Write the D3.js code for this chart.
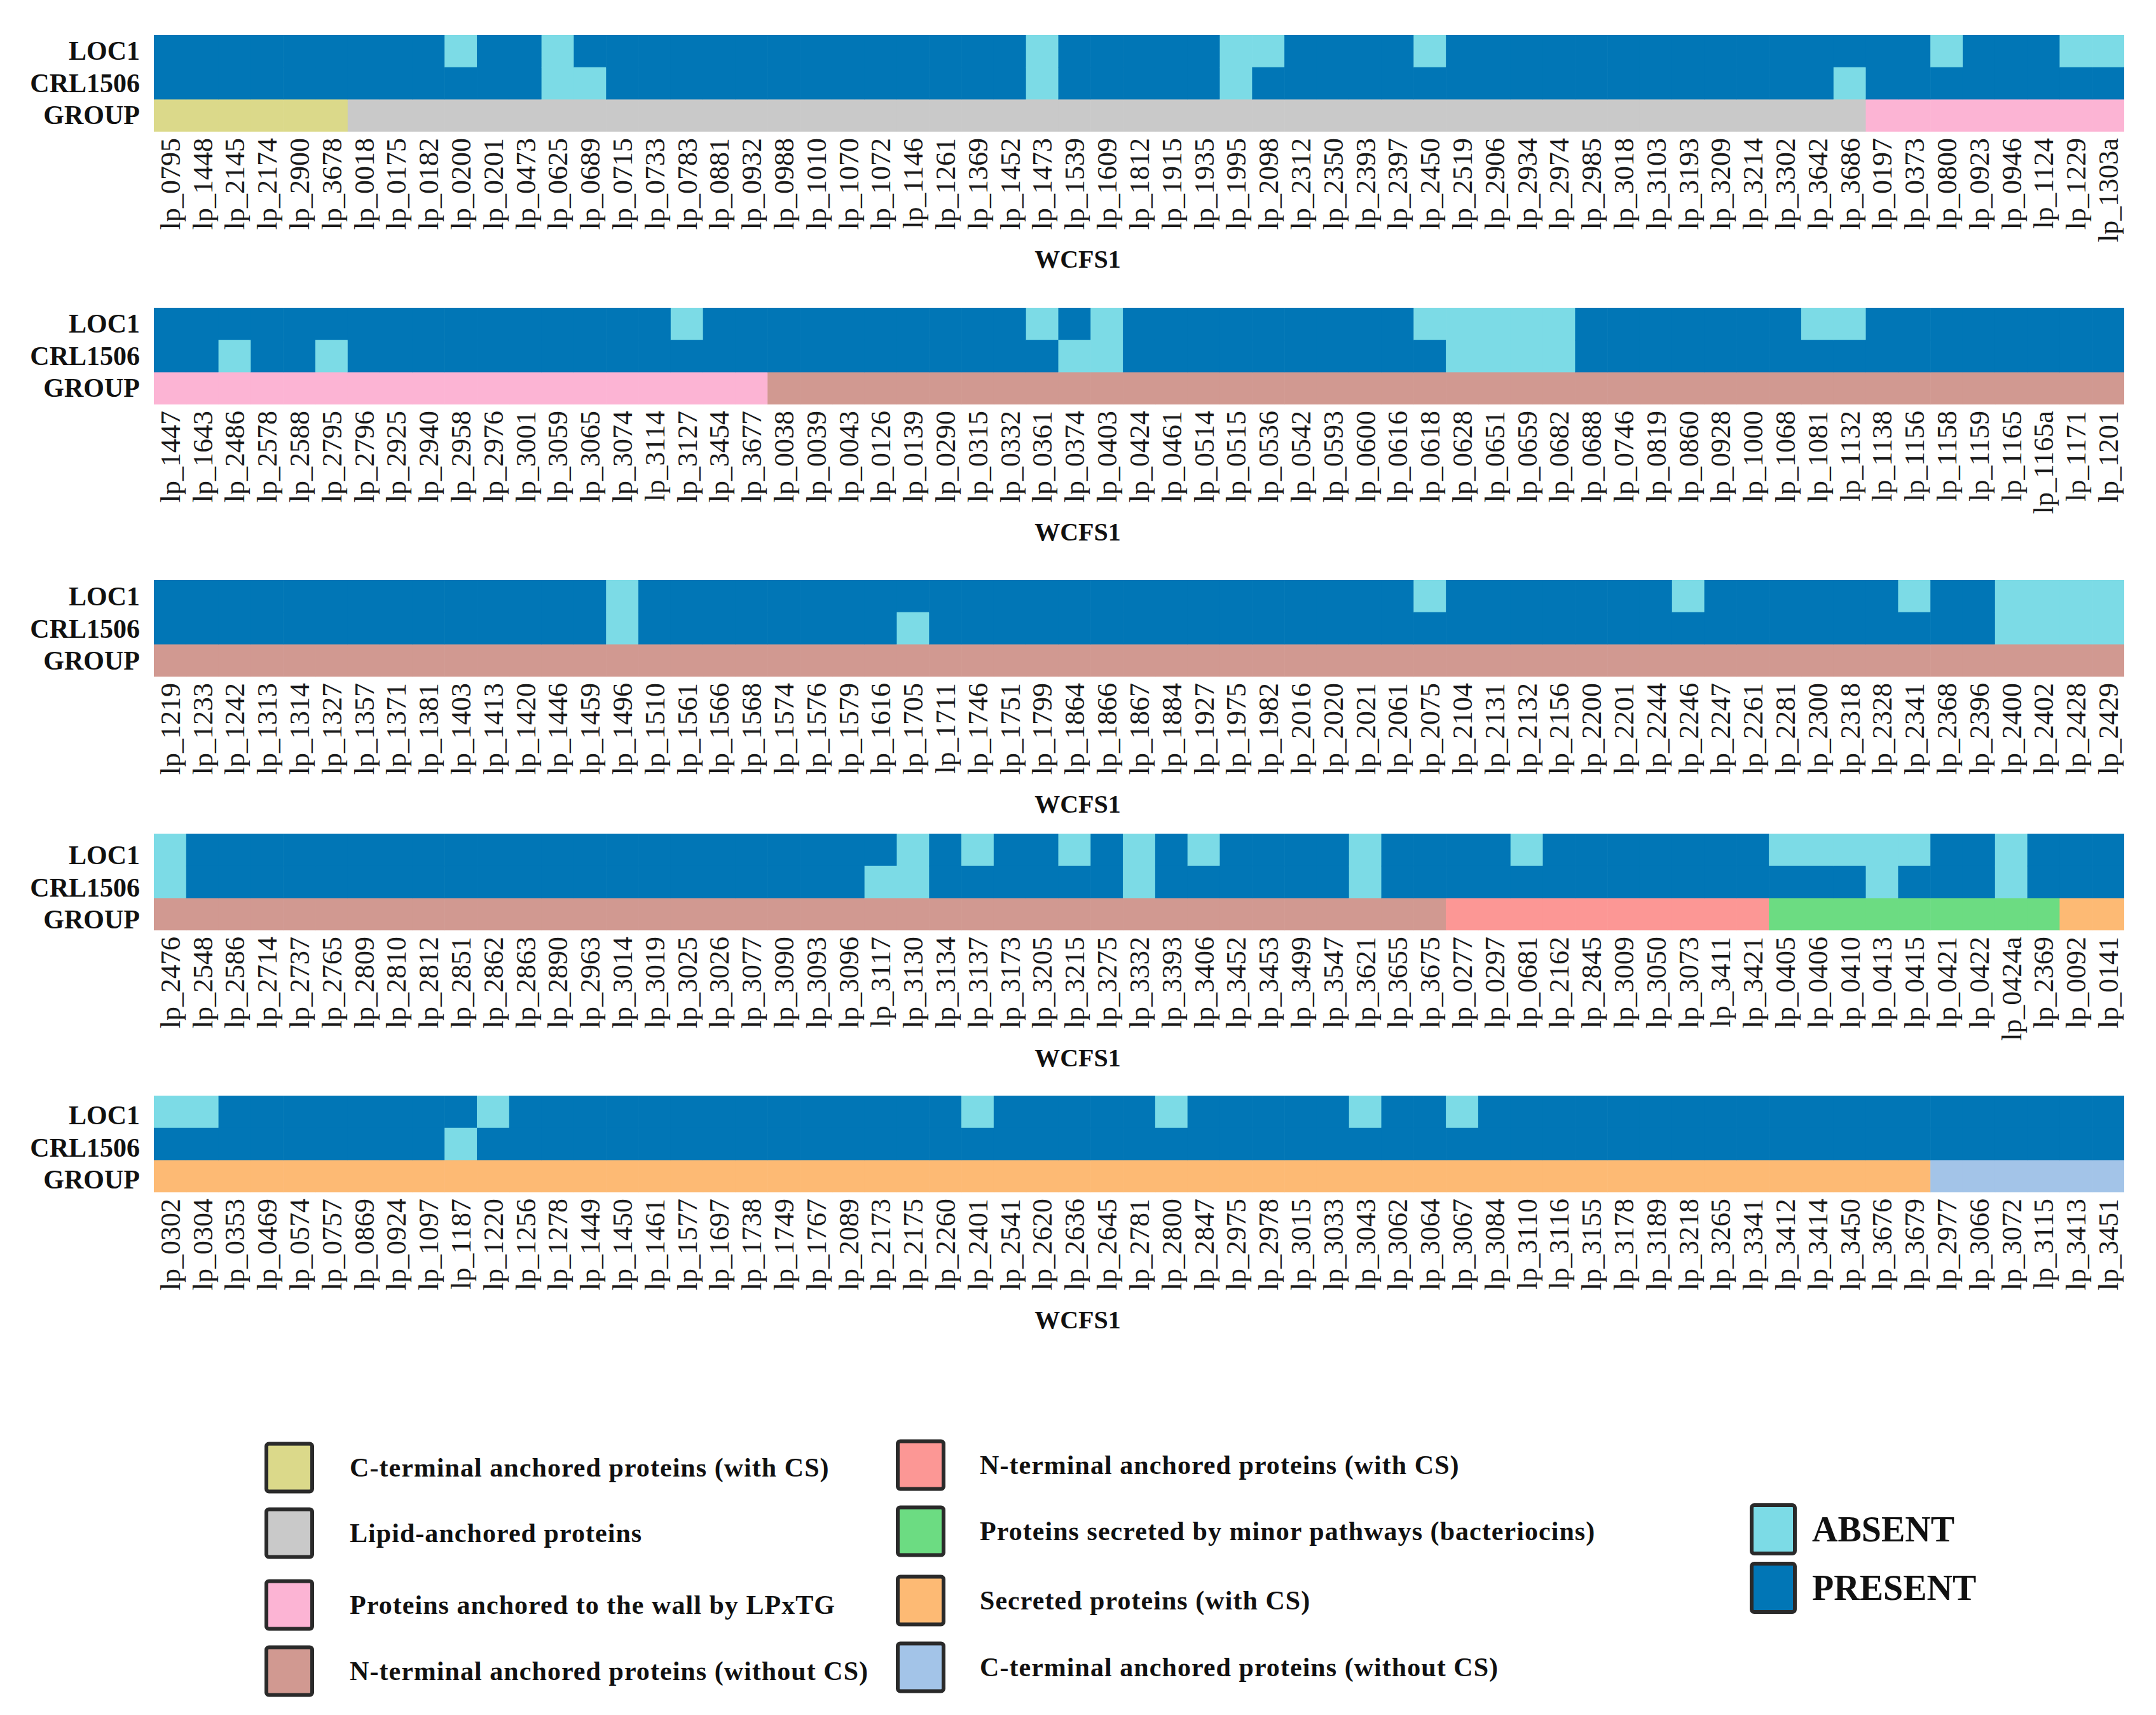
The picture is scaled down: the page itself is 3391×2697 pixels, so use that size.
<!DOCTYPE html>
<html>
<head>
<meta charset="utf-8">
<script src="https://cdn.jsdelivr.net/npm/d3@7"></script>
<style>
  html, body { margin: 0; padding: 0; background: #fff; }
  svg { display: block; }
</style>
</head>
<body>
<script>
// ---------------- DATA ----------------
const rowNames = ["LOC1", "CRL1506", "GROUP"];

// group keys: C = C-terminal with CS, L = lipid, P = LPxTG, N = N-terminal without CS,
// W = N-terminal with CS, B = bacteriocins, S = secreted with CS, U = C-terminal without CS
const groupKeys = ["C", "L", "P", "N", "W", "B", "S", "U"];
const groupLabels = [
  "C-terminal anchored proteins (with CS)",
  "Lipid-anchored proteins",
  "Proteins anchored to the wall by LPxTG",
  "N-terminal anchored proteins (without CS)",
  "N-terminal anchored proteins (with CS)",
  "Proteins secreted by minor pathways (bacteriocins)",
  "Secreted proteins (with CS)",
  "C-terminal anchored proteins (without CS)"
];
const groupColors = ["#dbd98a", "#c9c9c9", "#fcb4d4", "#d19991", "#fc9795", "#6cdc82", "#fdba74", "#a3c4e8"];

const statusLabels = ["ABSENT", "PRESENT"];
const statusColors = ["#7cdbe6", "#0176b6"];

// ---- Panel 1
const genes1 = ["lp_0795","lp_1448","lp_2145","lp_2174","lp_2900","lp_3678","lp_0018","lp_0175","lp_0182","lp_0200",
  "lp_0201","lp_0473","lp_0625","lp_0689","lp_0715","lp_0733","lp_0783","lp_0881","lp_0932","lp_0988",
  "lp_1010","lp_1070","lp_1072","lp_1146","lp_1261","lp_1369","lp_1452","lp_1473","lp_1539","lp_1609",
  "lp_1812","lp_1915","lp_1935","lp_1995","lp_2098","lp_2312","lp_2350","lp_2393","lp_2397","lp_2450",
  "lp_2519","lp_2906","lp_2934","lp_2974","lp_2985","lp_3018","lp_3103","lp_3193","lp_3209","lp_3214",
  "lp_3302","lp_3642","lp_3686","lp_0197","lp_0373","lp_0800","lp_0923","lp_0946","lp_1124","lp_1229","lp_1303a"];
const loc1_1 = [1,1,1,1,1,1,1,1,1,0, 1,1,0,1,1,1,1,1,1,1, 1,1,1,1,1,1,1,0,1,1, 1,1,1,0,0,1,1,1,1,0,
  1,1,1,1,1,1,1,1,1,1, 1,1,1,1,1,0,1,1,1,0, 0];
const crl_1 = [1,1,1,1,1,1,1,1,1,1, 1,1,0,0,1,1,1,1,1,1, 1,1,1,1,1,1,1,0,1,1, 1,1,1,0,1,1,1,1,1,1,
  1,1,1,1,1,1,1,1,1,1, 1,1,0,1,1,1,1,1,1,1, 1];
const group_1 = ["C","C","C","C","C","C","L","L","L","L", "L","L","L","L","L","L","L","L","L","L",
  "L","L","L","L","L","L","L","L","L","L", "L","L","L","L","L","L","L","L","L","L",
  "L","L","L","L","L","L","L","L","L","L", "L","L","L","P","P","P","P","P","P","P", "P"];

// ---- Panel 2
const genes2 = ["lp_1447","lp_1643","lp_2486","lp_2578","lp_2588","lp_2795","lp_2796","lp_2925","lp_2940","lp_2958",
  "lp_2976","lp_3001","lp_3059","lp_3065","lp_3074","lp_3114","lp_3127","lp_3454","lp_3677","lp_0038",
  "lp_0039","lp_0043","lp_0126","lp_0139","lp_0290","lp_0315","lp_0332","lp_0361","lp_0374","lp_0403",
  "lp_0424","lp_0461","lp_0514","lp_0515","lp_0536","lp_0542","lp_0593","lp_0600","lp_0616","lp_0618",
  "lp_0628","lp_0651","lp_0659","lp_0682","lp_0688","lp_0746","lp_0819","lp_0860","lp_0928","lp_1000",
  "lp_1068","lp_1081","lp_1132","lp_1138","lp_1156","lp_1158","lp_1159","lp_1165","lp_1165a","lp_1171","lp_1201"];
const loc1_2 = [1,1,1,1,1,1,1,1,1,1, 1,1,1,1,1,1,0,1,1,1, 1,1,1,1,1,1,1,0,1,0, 1,1,1,1,1,1,1,1,1,0,
  0,0,0,0,1,1,1,1,1,1, 1,0,0,1,1,1,1,1,1,1, 1];
const crl_2 = [1,1,0,1,1,0,1,1,1,1, 1,1,1,1,1,1,1,1,1,1, 1,1,1,1,1,1,1,1,0,0, 1,1,1,1,1,1,1,1,1,1,
  0,0,0,0,1,1,1,1,1,1, 1,1,1,1,1,1,1,1,1,1, 1];
const group_2 = ["P","P","P","P","P","P","P","P","P","P", "P","P","P","P","P","P","P","P","P","N",
  "N","N","N","N","N","N","N","N","N","N", "N","N","N","N","N","N","N","N","N","N",
  "N","N","N","N","N","N","N","N","N","N", "N","N","N","N","N","N","N","N","N","N", "N"];

// ---- Panel 3
const genes3 = ["lp_1219","lp_1233","lp_1242","lp_1313","lp_1314","lp_1327","lp_1357","lp_1371","lp_1381","lp_1403",
  "lp_1413","lp_1420","lp_1446","lp_1459","lp_1496","lp_1510","lp_1561","lp_1566","lp_1568","lp_1574",
  "lp_1576","lp_1579","lp_1616","lp_1705","lp_1711","lp_1746","lp_1751","lp_1799","lp_1864","lp_1866",
  "lp_1867","lp_1884","lp_1927","lp_1975","lp_1982","lp_2016","lp_2020","lp_2021","lp_2061","lp_2075",
  "lp_2104","lp_2131","lp_2132","lp_2156","lp_2200","lp_2201","lp_2244","lp_2246","lp_2247","lp_2261",
  "lp_2281","lp_2300","lp_2318","lp_2328","lp_2341","lp_2368","lp_2396","lp_2400","lp_2402","lp_2428","lp_2429"];
const loc1_3 = [1,1,1,1,1,1,1,1,1,1, 1,1,1,1,0,1,1,1,1,1, 1,1,1,1,1,1,1,1,1,1, 1,1,1,1,1,1,1,1,1,0,
  1,1,1,1,1,1,1,0,1,1, 1,1,1,1,0,1,1,0,0,0, 0];
const crl_3 = [1,1,1,1,1,1,1,1,1,1, 1,1,1,1,0,1,1,1,1,1, 1,1,1,0,1,1,1,1,1,1, 1,1,1,1,1,1,1,1,1,1,
  1,1,1,1,1,1,1,1,1,1, 1,1,1,1,1,1,1,0,0,0, 0];
const group_3 = ["N","N","N","N","N","N","N","N","N","N", "N","N","N","N","N","N","N","N","N","N",
  "N","N","N","N","N","N","N","N","N","N", "N","N","N","N","N","N","N","N","N","N",
  "N","N","N","N","N","N","N","N","N","N", "N","N","N","N","N","N","N","N","N","N", "N"];

// ---- Panel 4
const genes4 = ["lp_2476","lp_2548","lp_2586","lp_2714","lp_2737","lp_2765","lp_2809","lp_2810","lp_2812","lp_2851",
  "lp_2862","lp_2863","lp_2890","lp_2963","lp_3014","lp_3019","lp_3025","lp_3026","lp_3077","lp_3090",
  "lp_3093","lp_3096","lp_3117","lp_3130","lp_3134","lp_3137","lp_3173","lp_3205","lp_3215","lp_3275",
  "lp_3332","lp_3393","lp_3406","lp_3452","lp_3453","lp_3499","lp_3547","lp_3621","lp_3655","lp_3675",
  "lp_0277","lp_0297","lp_0681","lp_2162","lp_2845","lp_3009","lp_3050","lp_3073","lp_3411","lp_3421",
  "lp_0405","lp_0406","lp_0410","lp_0413","lp_0415","lp_0421","lp_0422","lp_0424a","lp_2369","lp_0092","lp_0141"];
const loc1_4 = [0,1,1,1,1,1,1,1,1,1, 1,1,1,1,1,1,1,1,1,1, 1,1,1,0,1,0,1,1,0,1, 0,1,0,1,1,1,1,0,1,1,
  1,1,0,1,1,1,1,1,1,1, 0,0,0,0,0,1,1,0,1,1, 1];
const crl_4 = [0,1,1,1,1,1,1,1,1,1, 1,1,1,1,1,1,1,1,1,1, 1,1,0,0,1,1,1,1,1,1, 0,1,1,1,1,1,1,0,1,1,
  1,1,1,1,1,1,1,1,1,1, 1,1,1,0,1,1,1,0,1,1, 1];
const group_4 = ["N","N","N","N","N","N","N","N","N","N", "N","N","N","N","N","N","N","N","N","N",
  "N","N","N","N","N","N","N","N","N","N", "N","N","N","N","N","N","N","N","N","N",
  "W","W","W","W","W","W","W","W","W","W", "B","B","B","B","B","B","B","B","B","S", "S"];

// ---- Panel 5
const genes5 = ["lp_0302","lp_0304","lp_0353","lp_0469","lp_0574","lp_0757","lp_0869","lp_0924","lp_1097","lp_1187",
  "lp_1220","lp_1256","lp_1278","lp_1449","lp_1450","lp_1461","lp_1577","lp_1697","lp_1738","lp_1749",
  "lp_1767","lp_2089","lp_2173","lp_2175","lp_2260","lp_2401","lp_2541","lp_2620","lp_2636","lp_2645",
  "lp_2781","lp_2800","lp_2847","lp_2975","lp_2978","lp_3015","lp_3033","lp_3043","lp_3062","lp_3064",
  "lp_3067","lp_3084","lp_3110","lp_3116","lp_3155","lp_3178","lp_3189","lp_3218","lp_3265","lp_3341",
  "lp_3412","lp_3414","lp_3450","lp_3676","lp_3679","lp_2977","lp_3066","lp_3072","lp_3115","lp_3413","lp_3451"];
const loc1_5 = [0,0,1,1,1,1,1,1,1,1, 0,1,1,1,1,1,1,1,1,1, 1,1,1,1,1,0,1,1,1,1, 1,0,1,1,1,1,1,0,1,1,
  0,1,1,1,1,1,1,1,1,1, 1,1,1,1,1,1,1,1,1,1, 1];
const crl_5 = [1,1,1,1,1,1,1,1,1,0, 1,1,1,1,1,1,1,1,1,1, 1,1,1,1,1,1,1,1,1,1, 1,1,1,1,1,1,1,1,1,1,
  1,1,1,1,1,1,1,1,1,1, 1,1,1,1,1,1,1,1,1,1, 1];
const group_5 = ["S","S","S","S","S","S","S","S","S","S", "S","S","S","S","S","S","S","S","S","S",
  "S","S","S","S","S","S","S","S","S","S", "S","S","S","S","S","S","S","S","S","S",
  "S","S","S","S","S","S","S","S","S","S", "S","S","S","S","S","U","U","U","U","U", "U"];

const xAxisTitle = "WCFS1";

// ---------------- DRAW ----------------
const W = 3391, H = 2697;
const serif = "'Liberation Serif', 'Times New Roman', Times, serif";
const svg = d3.select("body").append("svg").attr("width", W).attr("height", H)
  .style("font-family", serif);
svg.append("rect").attr("width", W).attr("height", H).attr("fill", "#fff");

const panels = [
  {genes: genes1, loc1: loc1_1, crl: crl_1, group: group_1, top: 55, labelShift: 0},
  {genes: genes2, loc1: loc1_2, crl: crl_2, group: group_2, top: 484, labelShift: 0},
  {genes: genes3, loc1: loc1_3, crl: crl_3, group: group_3, top: 912, labelShift: 1},
  {genes: genes4, loc1: loc1_4, crl: crl_4, group: group_4, top: 1311, labelShift: 9},
  {genes: genes5, loc1: loc1_5, crl: crl_5, group: group_5, top: 1723, labelShift: 6}
];

const left = 242, right = 3341, rowH = 50.7;
const statusColor = d3.scaleOrdinal().domain([0, 1]).range(statusColors);
const groupColor = d3.scaleOrdinal().domain(groupKeys).range(groupColors);

panels.forEach(p => {
  const x = d3.scaleBand().domain(p.genes).range([left, right]);
  const y = d3.scaleBand().domain(rowNames).range([p.top, p.top + rowH * 3]);
  const g = svg.append("g");
  const bw = x.bandwidth();

  const cells = [];
  p.genes.forEach((gene, i) => {
    cells.push({gene, row: "LOC1", fill: statusColor(p.loc1[i])});
    cells.push({gene, row: "CRL1506", fill: statusColor(p.crl[i])});
    cells.push({gene, row: "GROUP", fill: groupColor(p.group[i])});
  });
  g.selectAll("rect.cell").data(cells).join("rect")
    .attr("class", "cell")
    .attr("x", d => x(d.gene))
    .attr("y", d => y(d.row))
    .attr("width", d => (x(d.gene) + bw >= right - 0.5) ? bw : bw + 0.6)
    .attr("height", d => d.row === "GROUP" ? y.bandwidth() : y.bandwidth() + 0.6)
    .attr("fill", d => d.fill);

  // row labels
  const ya = svg.append("g").attr("transform", `translate(${left},${p.labelShift})`)
    .call(d3.axisLeft(y).tickSize(0).tickPadding(22));
  ya.select(".domain").remove();
  ya.selectAll("text").attr("font-family", serif).attr("font-size", 42).attr("font-weight", "bold")
    .attr("fill", "#111");

  // gene labels
  const bottom = p.top + rowH * 3;
  const xa = svg.append("g").attr("transform", `translate(0,${bottom + 10})`)
    .call(d3.axisBottom(x).tickSize(0).tickPadding(0));
  xa.select(".domain").remove();
  xa.selectAll("text")
    .attr("font-family", serif).attr("font-size", 44).attr("fill", "#1a1a1a")
    .attr("x", 0).attr("y", 0).attr("dy", "0.35em")
    .attr("transform", "rotate(-90)")
    .style("text-anchor", "end");

  svg.append("text")
    .attr("x", 1695).attr("y", bottom + 200)
    .attr("text-anchor", "middle").attr("dominant-baseline", "central")
    .attr("font-size", 40).attr("font-weight", "bold").attr("fill", "#111")
    .text(xAxisTitle);
});

// ---------------- LEGEND ----------------
const legendCols = [
  {x: 419, textX: 550, ys: [2308, 2411, 2524, 2628], keys: ["C", "L", "P", "N"]},
  {x: 1412, textX: 1541, ys: [2304, 2408, 2517, 2622], keys: ["W", "B", "S", "U"]}
];
const sw = 72, sh = 75;
const lg = svg.append("g");
legendCols.forEach(col => {
  col.keys.forEach((k, i) => {
    const idx = groupKeys.indexOf(k);
    lg.append("rect")
      .attr("x", col.x).attr("y", col.ys[i] - sh / 2)
      .attr("width", sw).attr("height", sh).attr("rx", 4)
      .attr("fill", groupColors[idx]).attr("stroke", "#2a2a2a").attr("stroke-width", 6);
    lg.append("text")
      .attr("x", col.textX).attr("y", col.ys[i])
      .attr("dominant-baseline", "central")
      .attr("font-size", 42).attr("font-weight", "bold").attr("fill", "#111")
      .attr("letter-spacing", 1.05)
      .text(groupLabels[idx]);
  });
});
const statusYs = [2405, 2497];
statusLabels.forEach((s, i) => {
  lg.append("rect")
    .attr("x", 2755).attr("y", statusYs[i] - 38)
    .attr("width", 68).attr("height", 76).attr("rx", 4)
    .attr("fill", statusColors[i]).attr("stroke", "#2a2a2a").attr("stroke-width", 6);
  lg.append("text")
    .attr("x", 2850).attr("y", statusYs[i])
    .attr("dominant-baseline", "central")
    .attr("font-size", 56).attr("font-weight", "bold").attr("fill", "#111")
    .text(s);
});
</script>
</body>
</html>
